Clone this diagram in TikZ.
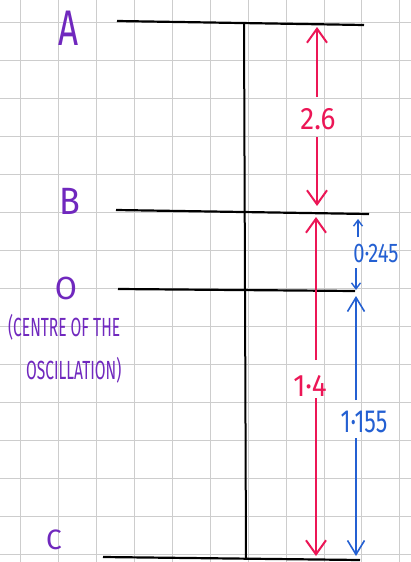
\documentclass[tikz,border=0pt]{standalone}
\usepackage{fontspec}
\setmainfont{Fira Sans}
\usetikzlibrary{arrows.meta}
\definecolor{penpurple}{RGB}{112,40,190}
\definecolor{penred}{RGB}{236,22,86}
\definecolor{penblue}{RGB}{36,96,210}
\definecolor{gridgray}{RGB}{205,205,205}
\begin{document}
\begin{tikzpicture}[x=1pt,y=-1pt,
  gridline/.style={gridgray,line width=0.8pt},
  bar/.style={line width=2.2pt,black},
  stem/.style={line width=2pt,black},
  ptlabel/.style={text=penpurple,inner sep=0pt},
  note/.style={text=penpurple,inner sep=0pt,font=\fontsize{21}{23}\selectfont},
  redlbl/.style={text=penred,inner sep=0pt,font=\fontsize{31}{33}\selectfont},
  bluelbl/.style={text=penblue,inner sep=0pt},
  redarr/.style={penred,line width=2pt,-{Straight Barb[length=14pt,width=20pt,line width=2pt]}},
  bluearr/.style={penblue,line width=1.6pt,-{Straight Barb[length=14pt,width=17pt,line width=1.6pt]}},
  smallarr/.style={penblue,line width=1.4pt,-{Straight Barb[length=6pt,width=9pt,line width=1.4pt]}}]
\useasboundingbox (0,0) rectangle (411,562);
\clip (0,0) rectangle (411,562);
\fill[white] (0,0) rectangle (411,562);
% grid
\foreach \i in {0,...,10} \draw[gridline] ({20.7+37.9*\i},0) -- ({20.7+37.9*\i},562);
\foreach \j in {0,...,14} \draw[gridline] (0,{22.7+37.95*\j}) -- (411,{22.7+37.95*\j});
% levels
\coordinate (A1) at (117,21); \coordinate (A2) at (364,25);
\coordinate (B1) at (116,210); \coordinate (B2) at (369,214);
\coordinate (O1) at (118,289); \coordinate (O2) at (355,291);
\coordinate (C1) at (103,557); \coordinate (C2) at (360,560);
\coordinate (stemtop) at (244,23); \coordinate (stembot) at (246,558);
\draw[bar] (A1) -- (A2);
\draw[bar] (B1) -- (B2);
\draw[bar] (O1) -- (O2);
\draw[bar] (C1) -- (C2);
\draw[stem] (stemtop) -- (stembot);
% point labels
\node[ptlabel,font=\fontsize{50}{52}\selectfont] (lA) at (69,28) {\scalebox{0.7}[1]{A}};
\node[ptlabel,font=\fontsize{38}{40}\selectfont] (lB) at (70,201) {\scalebox{0.9}[1]{B}};
\node[ptlabel,font=\fontsize{32}{34}\selectfont] (lO) at (66,288) {O};
\node[note,anchor=west] (n1) at (8,327) {\scalebox{0.74}[1.25]{(CENTRE OF THE}};
\node[note,anchor=west] (n2) at (26,370) {\scalebox{0.74}[1.25]{OSCILLATION)}};
\node[ptlabel,font=\fontsize{28}{30}\selectfont,anchor=base] (lC) at (54,549) {C};
% red dimensions
\coordinate (rA) at (317,27);
\coordinate (rB1) at (317,206);
\coordinate (rB2) at (316,217);
\coordinate (rC) at (316,556);
\node[redlbl] (l26) at (318,119) {\scalebox{0.9}[1]{2.6}};
\node[redlbl] (l14) at (310,386) {\scalebox{0.9}[1]{1·4}};
\draw[redarr] (317,97) -- (rA);
\draw[redarr] (317,137) -- (rB1);
\draw[redarr] (316,360) -- (rB2);
\draw[redarr] (316,398) -- (rC);
% blue dimensions
\node[bluelbl,font=\fontsize{27}{29}\selectfont] (l245) at (376,253) {\scalebox{0.75}[1]{0·245}};
\node[bluelbl,font=\fontsize{32}{34}\selectfont] (l155) at (364,422) {\scalebox{0.72}[1]{1·155}};
\coordinate (bB) at (358,219);
\coordinate (bO1) at (356,290);
\coordinate (bO2) at (356,296);
\coordinate (bC) at (356,556);
\draw[smallarr] (358,237) -- (bB);
\draw[smallarr] (356,268) -- (bO1);
\draw[bluearr] (356,400) -- (bO2);
\draw[bluearr] (356,438) -- (bC);
\end{tikzpicture}
\end{document}
